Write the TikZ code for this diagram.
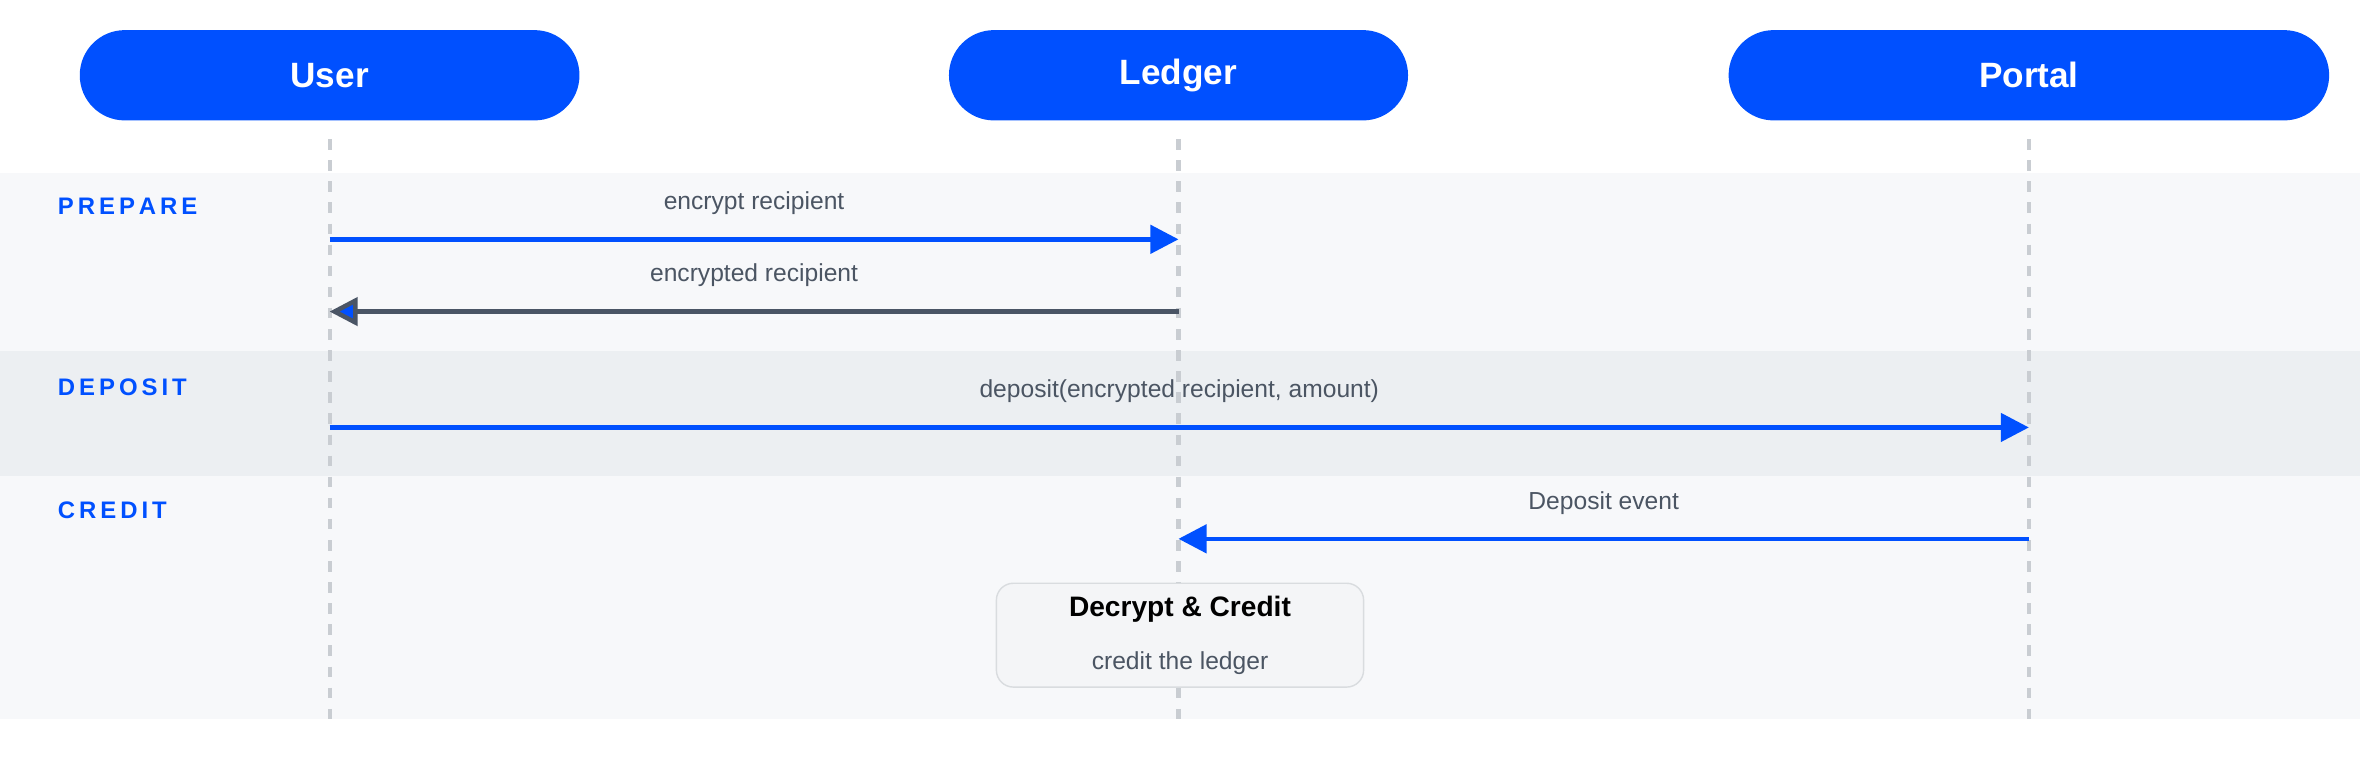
\documentclass[tikz,border=0pt]{standalone}
\usepackage{fontspec}
\setmainfont{Liberation Sans}
\usetikzlibrary{positioning,arrows.meta}
\definecolor{brand}{HTML}{0050FF}
\definecolor{bandlight}{HTML}{F7F8FA}
\definecolor{banddark}{HTML}{ECEFF2}
\definecolor{lifeline}{HTML}{C9CDD2}
\definecolor{msgtext}{HTML}{4B5563}
\definecolor{returnline}{HTML}{4A5565}
\begin{document}
\begin{tikzpicture}[x=0.01505cm,y=-0.01505cm,
      actor/.style={rounded corners=0.45cm, fill=brand, text=white, font=\bfseries\fontsize{10}{12}\selectfont, inner sep=0pt},
      band/.style={anchor=west, text=brand, font=\bfseries\fontsize{6.8}{8}\selectfont, inner sep=0pt},
      life/.style={lifeline, line width=1.2pt, dash pattern=on 3pt off 3pt},
      msg/.style={brand, line width=1.3pt, -{Triangle[length=8pt,width=8pt]}},
      msg-back/.style={returnline, line width=1.3pt, -{Triangle[length=8pt,width=8pt,fill=brand]}},
      msg-label/.style={text=msgtext, font=\fontsize{7}{8}\selectfont}
    ]
      \useasboundingbox (0,0) rectangle (1568,505);
      % bands
      \fill[bandlight] (0,115) rectangle (1568,233);
      \fill[banddark] (0,233) rectangle (1568,316);
      \fill[bandlight] (0,316) rectangle (1568,478);
      \node[band] (prepare) at (38,137) {P\,R\,E\,P\,A\,R\,E};
      \node[band] (deposit) at (38,257) {D\,E\,P\,O\,S\,I\,T};
      \node[band] (credit) at (38,339) {C\,R\,E\,D\,I\,T};
      % actors
      \node[actor, minimum width=332*0.01505cm, minimum height=60*0.01505cm] (user) at (219,50) {User};
      \node[actor, minimum width=305*0.01505cm, minimum height=60*0.01505cm] (ledger) at (783,50) {Ledger};
      \node[actor, minimum width=399*0.01505cm, minimum height=60*0.01505cm] (portal) at (1348,50) {Portal};
      \coordinate (user-end) at (219,480);
      \coordinate (ledger-end) at (783,480);
      \coordinate (portal-end) at (1348,480);
      \draw[life] (user.south) ++(0,12) -- (user-end);
      \draw[life] (ledger.south) ++(0,12) -- (ledger-end);
      \draw[life] (portal.south) ++(0,12) -- (portal-end);
      % messages
      \coordinate (u1) at (219,159); \coordinate (l1) at (783,159);
      \coordinate (u2) at (219,207); \coordinate (l2) at (783,207);
      \coordinate (u3) at (219,284); \coordinate (p3) at (1348,284);
      \coordinate (l4) at (783,358); \coordinate (p4) at (1348,358);
      \draw[msg] (u1) -- node[msg-label, above=3pt] {encrypt recipient} (l1);
      \draw[msg-back] (l2) -- node[msg-label, above=3pt] {encrypted recipient} (u2);
      \draw[msg] (u3) -- node[msg-label, above=3pt] {deposit(encrypted recipient, amount)} (p3);
      \draw[msg] (p4) -- node[msg-label, above=3pt] {Deposit event} (l4);
      % step box
      \node[draw=lifeline!70, fill=banddark!60, rounded corners=0.17cm, minimum width=244*0.01505cm, minimum height=69*0.01505cm, align=center, inner sep=0pt] (decrypt) at (784,422)
        {{\bfseries\fontsize{8}{10}\selectfont Decrypt \& Credit}\\[3pt]{\color{msgtext}\fontsize{7}{8}\selectfont credit the ledger}};
    \end{tikzpicture}
\end{document}
